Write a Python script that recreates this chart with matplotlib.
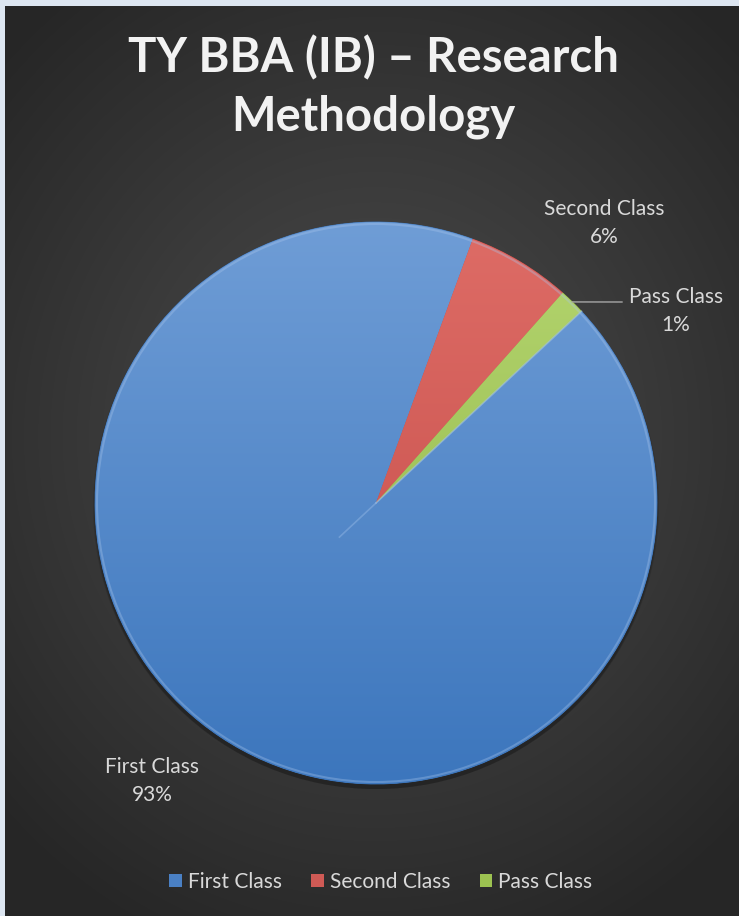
import numpy as np
import matplotlib
matplotlib.use('Agg')
import matplotlib.pyplot as plt
from matplotlib.colors import LinearSegmentedColormap
from matplotlib.patches import Circle

plt.rcParams['font.family'] = ['Lato', 'DejaVu Sans']

# data
categories = ['First Class', 'Second Class', 'Pass Class']
counts = [62, 4, 1]
title = 'TY BBA (IB) – Research\nMethodology'

# gradient colours per slice (bottom, top)
slice_colors = [('#3c76bd', '#6f9dd6'), ('#c24a46', '#de6c66'), ('#8cb143', '#b5d670')]
legend_colors = ['#4a80c4', '#cf5a55', '#9cc251']

W, H = 739, 916
fig = plt.figure(figsize=(W / 100, H / 100), dpi=100)
fig.patch.set_facecolor('#dde6f1')

# dark radial background
bg = fig.add_axes([5 / W, 0, (W - 5) / W, (H - 6) / H])
bg.set_axis_off()
yy, xx = np.mgrid[0:910, 0:734]
rr = np.sqrt(((xx - 370) / 520.0) ** 2 + ((yy - 430) / 560.0) ** 2)
rr = np.clip(rr, 0, 1)
bg_cmap = LinearSegmentedColormap.from_list('bg', ['#4c4c4c', '#3a3a3a', '#262626'])
bg.imshow(rr, cmap=bg_cmap, vmin=0, vmax=1, aspect='auto')

ax = fig.add_axes([0, 0, 1, 1])
ax.patch.set_alpha(0)

cx, cy, r = 376, H - 503, 281

# soft shadow under the pie
for i, a in enumerate([0.10, 0.10, 0.12]):
    ax.add_patch(Circle((cx, cy - 3 - i), r + 2 - i, color='black', alpha=a, lw=0, zorder=1))

wedges, _ = ax.pie(counts, startangle=43, counterclock=False, center=(cx, cy), radius=r,
                   colors=[c[1] for c in slice_colors],
                   wedgeprops=dict(linewidth=0.6, edgecolor='#2f4f7a'))

grad = np.linspace(0, 1, 256).reshape(-1, 1)
for w, (c0, c1) in zip(wedges, slice_colors):
    w.set_zorder(2)
    w.set_edgecolor(c0)
    cm = LinearSegmentedColormap.from_list('g', [c0, c1])
    im = ax.imshow(grad, cmap=cm, origin='lower', extent=(cx - r, cx + r, cy - r, cy + r),
                   aspect='auto', zorder=3)
    im.set_clip_path(w)

# bevel highlights
ax.add_patch(Circle((cx, cy), r - 2, fill=False, ec='#a9c6ec', lw=1.5, alpha=0.35, zorder=4))
start = np.deg2rad(43)
ax.plot([cx, cx + r * np.cos(start)], [cy, cy + r * np.sin(start)],
        color='#9fc0ea', lw=1.2, alpha=0.6, zorder=4)
ax.plot([cx, cx - 50 * np.cos(start)], [cy, cy - 50 * np.sin(start)],
        color='#9fc0ea', lw=1.2, alpha=0.4, zorder=4)

# data labels
total = sum(counts)
pcts = [f'{round(100 * c / total)}%' for c in counts]
label_pos = [(152, H - 781), (604, H - 223), (676, H - 311)]
for name, p, (lx, ly) in zip(categories, pcts, label_pos):
    ax.text(lx, ly, f'{name}\n{p}', ha='center', va='center', color='#d9d9d9',
            fontsize=15, linespacing=1.5, zorder=6)

# leader line for the small slice
mid = np.deg2rad(43 - 360 * (counts[0] + counts[1] + counts[2] / 2) / total)
ax.plot([cx + r * np.cos(mid), 622], [cy + r * np.sin(mid), H - 302],
        color='#a6a6a6', lw=1, zorder=5)

ax.text(W / 2 + 4, H - 87, title, ha='center', va='center', color='#f2f2f2',
        fontsize=34, fontweight='bold', linespacing=1.4, zorder=6)

handles = [plt.Rectangle((0, 0), 1, 1, fc=c, ec='none') for c in legend_colors]
leg = ax.legend(handles, categories, loc='center', bbox_to_anchor=(381 / W, 1 - 882 / H),
                ncol=3, frameon=False, fontsize=15, handlelength=0.6, handleheight=0.6,
                handletextpad=0.3, columnspacing=1.4, labelcolor='#d9d9d9')

ax.set_xlim(0, W)
ax.set_ylim(0, H)
ax.set_aspect('auto')
ax.set_axis_off()

fig.savefig('out.png', dpi=100, facecolor=fig.get_facecolor())
